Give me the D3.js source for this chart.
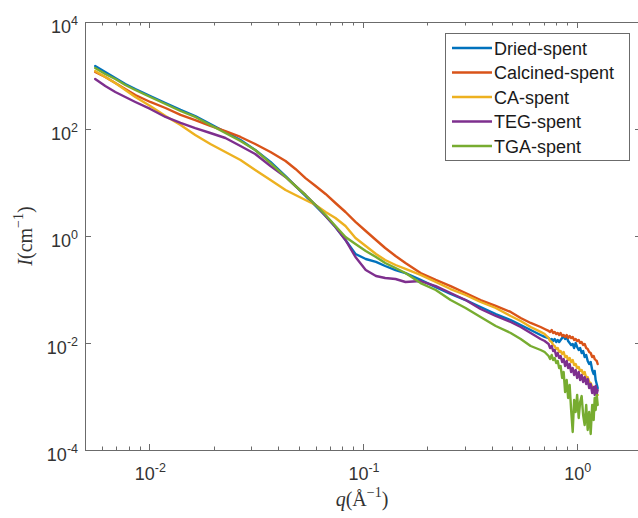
<!DOCTYPE html>
<html>
<head>
<meta charset="utf-8">
<script src="https://cdn.jsdelivr.net/npm/d3@7"></script>
<style>
  body { margin: 0; background: #fff; }
  svg { display: block; }
</style>
</head>
<body>
<svg id="chart" width="638" height="518"></svg>
<script>
// Scattering vector q (1/Å), shared by every sample
const q = [0.00558, 0.00622, 0.00693, 0.00772, 0.00860, 0.0101, 0.0119, 0.0140, 0.0164, 0.0193,
  0.0227, 0.0267, 0.0313, 0.0369, 0.0434, 0.0483, 0.0538, 0.0600, 0.0668, 0.0743,
  0.0828, 0.0922, 0.103, 0.115, 0.127, 0.142, 0.158, 0.186, 0.219, 0.257,
  0.302, 0.355, 0.418, 0.491, 0.547, 0.609, 0.678, 0.708,
  0.739, 0.751, 0.764, 0.776, 0.789, 0.802, 0.815, 0.828, 0.841, 0.855,
  0.869, 0.883, 0.898, 0.912, 0.927, 0.942, 0.958, 0.973, 0.989, 1.005,
  1.022, 1.038, 1.055, 1.072, 1.090, 1.108, 1.126, 1.144, 1.163, 1.182,
  1.201, 1.214, 1.227, 1.241, 1.254];

// Scattered intensity I (1/cm) for each sample
const driedSpent = [1505, 1163, 898, 694, 559, 414, 306, 227, 175, 124,
  87.9, 62.3, 40.5, 24.2, 13.2, 8.60, 5.59, 3.64, 2.37, 1.47,
  0.842, 0.461, 0.372, 0.327, 0.275, 0.231, 0.203, 0.151, 0.111, 0.0824,
  0.0636, 0.0471, 0.0348, 0.0269, 0.0217, 0.0175, 0.0141, 0.0130,
  0.0124, 0.0114, 0.0119, 0.0109, 0.0119, 0.0104, 0.0114, 0.0104, 0.0114, 0.0124,
  0.0135, 0.0119, 0.0130, 0.0109, 0.0100, 0.00917, 0.00958, 0.00806, 0.0100, 0.00842,
  0.00740, 0.00806, 0.00650, 0.00709, 0.00547, 0.00597, 0.00461, 0.00405, 0.00441, 0.00313,
  0.00263, 0.00300, 0.00203, 0.00171, 0.00144];

const calcinedSpent = [1163, 937, 724, 559, 432, 320, 247, 183, 147, 114,
  91.7, 70.9, 52.4, 37.2, 25.2, 17.9, 12.1, 8.60, 6.10, 4.14,
  2.81, 1.83, 1.24, 0.842, 0.597, 0.423, 0.313, 0.203, 0.151, 0.116,
  0.0860, 0.0636, 0.0492, 0.0380, 0.0293, 0.0237, 0.0199, 0.0183,
  0.0168, 0.0161, 0.0175, 0.0154, 0.0161, 0.0147, 0.0154, 0.0141, 0.0154, 0.0135,
  0.0141, 0.0130, 0.0141, 0.0124, 0.0135, 0.0124, 0.0130, 0.0114, 0.0119, 0.0109,
  0.0114, 0.0100, 0.0104, 0.00917, 0.00958, 0.00806, 0.00772, 0.00679, 0.00650, 0.00547,
  0.00572, 0.00502, 0.00481, 0.00461, 0.00405];

const caSpent = [1214, 937, 724, 536, 396, 269, 175, 119, 77.2, 52.4,
  37.2, 26.3, 17.1, 11.1, 7.24, 5.84, 4.71, 3.80, 2.81, 2.17,
  1.54, 0.917, 0.650, 0.461, 0.356, 0.287, 0.242, 0.187, 0.138, 0.102,
  0.0789, 0.0584, 0.0451, 0.0320, 0.0258, 0.0199, 0.0161, 0.0147,
  0.0124, 0.0109, 0.0104, 0.00917, 0.00879, 0.00772, 0.00806, 0.00679, 0.00709, 0.00623,
  0.00679, 0.00547, 0.00572, 0.00481, 0.00524, 0.00441, 0.00481, 0.00388, 0.00405, 0.00341,
  0.00356, 0.00300, 0.00313, 0.00263, 0.00287, 0.00222, 0.00231, 0.00187, 0.00179, 0.00151,
  0.00144, 0.00127, 0.00132, 0.00111, 0.00107];

const tegSpent = [860, 636, 492, 396, 320, 237, 168, 130, 104, 84.2,
  67.9, 48.1, 34.1, 20.3, 12.7, 8.60, 5.84, 3.80, 2.37, 1.47,
  0.842, 0.405, 0.231, 0.179, 0.164, 0.157, 0.138, 0.144, 0.116, 0.0860,
  0.0636, 0.0432, 0.0320, 0.0247, 0.0199, 0.0154, 0.0119, 0.0109,
  0.00958, 0.00806, 0.00879, 0.00709, 0.00740, 0.00572, 0.00650, 0.00524, 0.00572, 0.00441,
  0.00502, 0.00372, 0.00461, 0.00341, 0.00405, 0.00287, 0.00341, 0.00252, 0.00313, 0.00222,
  0.00287, 0.00203, 0.00252, 0.00187, 0.00231, 0.00171, 0.00212, 0.00144, 0.00171, 0.00116,
  0.00151, 0.00107, 0.00157, 0.00111, 0.00132];

const tgaSpent = [1381, 1067, 860, 664, 536, 396, 293, 217, 168, 119,
  84.2, 59.7, 40.5, 23.1, 12.7, 8.60, 5.84, 3.80, 2.47, 1.54,
  0.958, 0.709, 0.524, 0.405, 0.313, 0.252, 0.203, 0.132, 0.0979, 0.0636,
  0.0451, 0.0306, 0.0208, 0.0154, 0.0119, 0.00879, 0.00740, 0.00679,
  0.00572, 0.00502, 0.00597, 0.00481, 0.00524, 0.00423, 0.00461, 0.00341, 0.00372, 0.00222,
  0.00287, 0.00121, 0.00203, 0.000937, 0.00164, 0.000559, 0.000217, 0.000860, 0.000513, 0.00107,
  0.000396, 0.000789, 0.00102, 0.000451, 0.000293, 0.000694, 0.000237, 0.000513, 0.000199, 0.000694,
  0.000364, 0.000937, 0.000559, 0.00107, 0.000694];

const seriesNames = ["Dried-spent", "Calcined-spent", "CA-spent", "TEG-spent", "TGA-spent"];
const seriesValues = [driedSpent, calcinedSpent, caSpent, tegSpent, tgaSpent];
const seriesColors = ["#0072BD", "#D95319", "#EDB120", "#7E2F8E", "#77AC30"];

const xMajorTicks = [0.01, 0.1, 1];
const yMajorTicks = [1e-4, 1e-2, 1, 1e2, 1e4];
const xDomain = [0.005, 2];
const yDomain = [1e-4, 1e4];

(function drawChart() {
  const svg = d3.select("#chart");
  const plotLeft = 85, plotRight = 641, plotTop = 22, plotBottom = 450;

  const x = d3.scaleLog().domain(xDomain).range([plotLeft, plotRight]);
  const y = d3.scaleLog().domain(yDomain).range([plotBottom, plotTop]);

  const axisColor = "#6b6b6b";
  const textColor = "#333";

  // minor x ticks: 2..9 × each decade inside the domain
  const xMinorTicks = [];
  for (let e = -3; e <= 0; e++) {
    for (let m = 2; m <= 9; m++) {
      const v = m * Math.pow(10, e);
      if (v > xDomain[0] && v < xDomain[1]) xMinorTicks.push(v);
    }
  }

  // curves
  const line = d3.line()
    .x(d => x(d[0]))
    .y(d => y(d[1]));

  svg.append("defs").append("clipPath").attr("id", "plotClip")
    .append("rect").attr("x", plotLeft).attr("y", plotTop)
    .attr("width", plotRight - plotLeft).attr("height", plotBottom - plotTop);

  const plot = svg.append("g").attr("clip-path", "url(#plotClip)");
  seriesValues.forEach((vals, i) => {
    const pts = vals.map((v, j) => [q[j], v]);
    plot.append("path")
      .datum(pts)
      .attr("d", line)
      .attr("fill", "none")
      .attr("stroke", seriesColors[i])
      .attr("stroke-width", 2.4)
      .attr("stroke-linejoin", "round")
      .attr("stroke-linecap", "round");
  });

  // frame
  svg.append("rect")
    .attr("x", plotLeft + 0.5).attr("y", plotTop + 0.5)
    .attr("width", plotRight - plotLeft).attr("height", plotBottom - plotTop)
    .attr("fill", "none").attr("stroke", axisColor).attr("stroke-width", 1);

  // ticks on all four sides, pointing inward
  const tickG = svg.append("g").attr("stroke", axisColor).attr("stroke-width", 1);
  const xTick = (v, len) => {
    const px = Math.round(x(v)) + 0.5;
    tickG.append("line").attr("x1", px).attr("x2", px).attr("y1", plotBottom).attr("y2", plotBottom - len);
    tickG.append("line").attr("x1", px).attr("x2", px).attr("y1", plotTop).attr("y2", plotTop + len);
  };
  xMajorTicks.forEach(v => xTick(v, 6));
  xMinorTicks.forEach(v => xTick(v, 3.5));
  yMajorTicks.forEach(v => {
    const py = Math.round(y(v)) + 0.5;
    tickG.append("line").attr("x1", plotLeft).attr("x2", plotLeft + 6).attr("y1", py).attr("y2", py);
    tickG.append("line").attr("x1", plotRight).attr("x2", plotRight - 6).attr("y1", py).attr("y2", py);
  });

  // tick labels as 10 with a superscript exponent
  const labelFont = "'Liberation Sans', Arial, Helvetica, sans-serif";
  function powerLabel(g, v, px, py, anchor) {
    const exp = Math.round(Math.log10(v));
    const t = g.append("text")
      .attr("x", px).attr("y", py)
      .attr("text-anchor", anchor)
      .attr("font-family", labelFont)
      .attr("font-size", 18)
      .attr("fill", textColor);
    t.append("tspan").text("10");
    t.append("tspan").attr("dy", -8).attr("font-size", 12.5).text(String(exp));
  }
  const labels = svg.append("g");
  yMajorTicks.forEach(v => powerLabel(labels, v, 78, y(v) + 11, "end"));
  xMajorTicks.forEach(v => powerLabel(labels, v, x(v) + 1, 480, "middle"));

  // axis titles
  const titleFont = "'Liberation Serif', 'Times New Roman', serif";
  const xt = svg.append("text")
    .attr("x", (plotLeft + plotRight) / 2 - 1).attr("y", 506)
    .attr("text-anchor", "middle")
    .attr("font-family", titleFont).attr("font-size", 20).attr("fill", textColor);
  xt.append("tspan").attr("font-style", "italic").text("q");
  xt.append("tspan").text("(Å");
  xt.append("tspan").attr("dy", -9).attr("font-size", 14).text("\u22121");
  xt.append("tspan").attr("dy", 9).text(")");

  const yt = svg.append("text")
    .attr("transform", `translate(32,${(plotTop + plotBottom) / 2}) rotate(-90)`)
    .attr("text-anchor", "middle")
    .attr("font-family", titleFont).attr("font-size", 20).attr("fill", textColor);
  yt.append("tspan").attr("font-style", "italic").text("I");
  yt.append("tspan").text("(cm");
  yt.append("tspan").attr("dy", -9).attr("font-size", 14).text("\u22121");
  yt.append("tspan").attr("dy", 9).text(")");

  // legend
  const legend = svg.append("g");
  legend.append("rect")
    .attr("x", 445.5).attr("y", 33.5).attr("width", 184).attr("height", 127)
    .attr("fill", "#fff").attr("stroke", axisColor).attr("stroke-width", 1);
  seriesNames.forEach((name, i) => {
    const ly = 48 + i * 24.5;
    legend.append("line")
      .attr("x1", 452).attr("x2", 492).attr("y1", ly).attr("y2", ly)
      .attr("stroke", seriesColors[i]).attr("stroke-width", 2.6);
    legend.append("text")
      .attr("x", 494).attr("y", ly + 6.5)
      .attr("font-family", labelFont).attr("font-size", 18)
      .attr("fill", "#1a1a1a").text(name);
  });
})();
</script>
</body>
</html>
